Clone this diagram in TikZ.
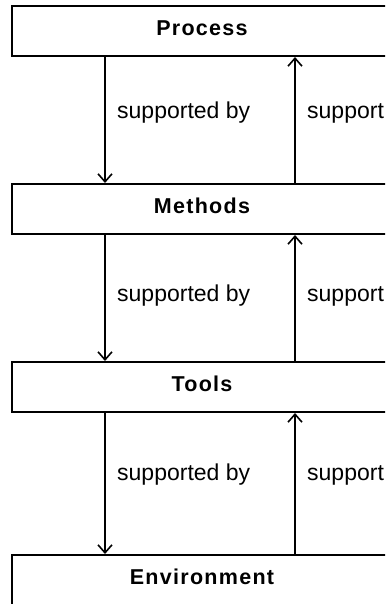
\documentclass[tikz,border=0pt]{standalone}
\usepackage{fontspec}
\setmainfont{Liberation Sans}
\usetikzlibrary{arrows.meta}
\begin{document}
\begin{tikzpicture}[x=1pt,y=-1pt,
  layer/.style={draw, line width=2pt, fill=white, minimum width=380pt,
    minimum height=50pt, inner sep=0pt, text depth=6pt,
    font=\fontsize{21.5}{26}\selectfont\bfseries\addfontfeature{LetterSpace=6}},
  rel/.style={line width=1.8pt, -{Straight Barb[length=8pt,width=14pt,line width=1.6pt]}},
  lbl/.style={anchor=west, inner sep=0pt, font=\fontsize{23}{27}\selectfont}]
  \useasboundingbox (0,0) rectangle (385,604);
  \clip (0,0) rectangle (385,604);
  % layers
  \node[layer] (process) at (202,31) {Process};
  \node[layer] (methods) at (202,209) {Methods};
  \node[layer] (tools) at (202,387) {Tools};
  % the lowest layer runs on past the bottom edge
  \node[layer, anchor=north, minimum height=0pt, inner ysep=14pt,
    text depth=40pt] (environment) at (202,554) {Environment};
  % columns of the two connector directions
  \coordinate (down) at (105,0);
  \coordinate (up) at (295,0);
  % downward: supported by
  \draw[rel] (process.south -| down) -- (methods.north -| down);
  \draw[rel] (methods.south -| down) -- (tools.north -| down);
  \draw[rel] (tools.south -| down) -- (environment.north -| down);
  % upward: supports
  \draw[rel] (methods.north -| up) -- (process.south -| up);
  \draw[rel] (tools.north -| up) -- (methods.south -| up);
  \draw[rel] (environment.north -| up) -- (tools.south -| up);
  % labels
  \node[lbl] (l1) at (117,113) {supported by};
  \node[lbl] (l2) at (117,296) {supported by};
  \node[lbl] (l3) at (117,475) {supported by};
  \node[lbl] (r1) at (307,113) {support};
  \node[lbl] (r2) at (307,296) {support};
  \node[lbl] (r3) at (307,475) {support};
\end{tikzpicture}
\end{document}
